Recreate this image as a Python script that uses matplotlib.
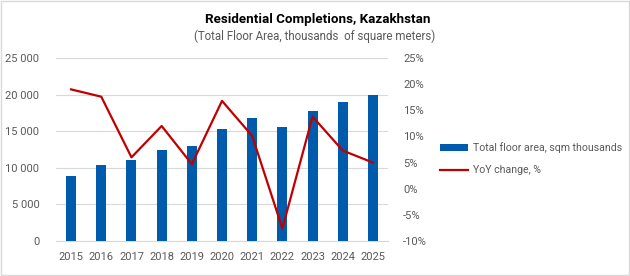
import matplotlib.pyplot as plt
from matplotlib.patches import Rectangle
from matplotlib.ticker import FuncFormatter

# Data
years = ['2015', '2016', '2017', '2018', '2019', '2020', '2021', '2022', '2023', '2024', '2025']
floor_area = [8900, 10400, 11100, 12500, 13000, 15300, 16800, 15600, 17800, 19000, 20000]
yoy_change = [19.0, 17.6, 6.0, 12.0, 4.7, 16.8, 10.1, -7.6, 13.8, 7.3, 5.0]
left_ticks = [0, 5000, 10000, 15000, 20000, 25000]
right_ticks = [-10, -5, 0, 5, 10, 15, 20, 25]

plt.rcParams['font.family'] = ['Roboto', 'DejaVu Sans']
gray = '#595959'

fig = plt.figure(figsize=(6.3, 2.76), dpi=100)
ax = fig.add_axes([0.0889, 0.1268, 0.527, 0.663])
ax2 = ax.twinx()

x = range(len(years))
bars = ax.bar(x, floor_area, width=0.33, color='#005BAC', zorder=3, label='Total floor area, sqm thousands')
line, = ax2.plot(x, yoy_change, color='#C00000', linewidth=1.6, zorder=4, label='YoY change, %')

ax.set_xlim(-0.5, len(years) - 0.5)
ax.set_ylim(0, 25000)
ax2.set_ylim(-10, 25)
ax.set_yticks(left_ticks)
ax2.set_yticks(right_ticks)
ax.yaxis.set_major_formatter(FuncFormatter(lambda v, p: f'{int(v):,}'.replace(',', ' ')))
ax2.yaxis.set_major_formatter(FuncFormatter(lambda v, p: f'{int(v)}%'))
ax.set_xticks(list(x))
ax.set_xticklabels(years)

ax.grid(axis='y', color='#d9d9d9', linewidth=0.8, zorder=0)
for a in (ax, ax2):
    for s in a.spines.values():
        s.set_visible(False)
    a.tick_params(length=0, labelsize=8, labelcolor=gray)
ax.spines['bottom'].set_visible(True)
ax.spines['bottom'].set_color('#d9d9d9')
ax.tick_params(axis='y', pad=12)
ax2.tick_params(axis='y', pad=11)
ax.tick_params(axis='x', pad=8)

# Titles
fig.text(0.505, 0.931, 'Residential Completions, Kazakhstan', ha='center', va='center',
         fontsize=9.6, fontweight='bold', color='black')
fig.text(0.5, 0.870, '(Total Floor Area, thousands  of square meters)', ha='center', va='center',
         fontsize=8.3, color=gray)

# Legend
fig.legend(handles=[bars, line], loc='center left', bbox_to_anchor=(0.683, 0.425),
           frameon=False, fontsize=7.6, labelcolor=gray, handlelength=2.7,
           handleheight=0.55, labelspacing=1.1, handletextpad=0.4)

# Outer border
fig.patches.append(Rectangle((0.001, 0.002), 0.997, 0.995, transform=fig.transFigure,
                             fill=False, edgecolor='#d9d9d9', linewidth=1))

plt.savefig('out.png', dpi=100)
